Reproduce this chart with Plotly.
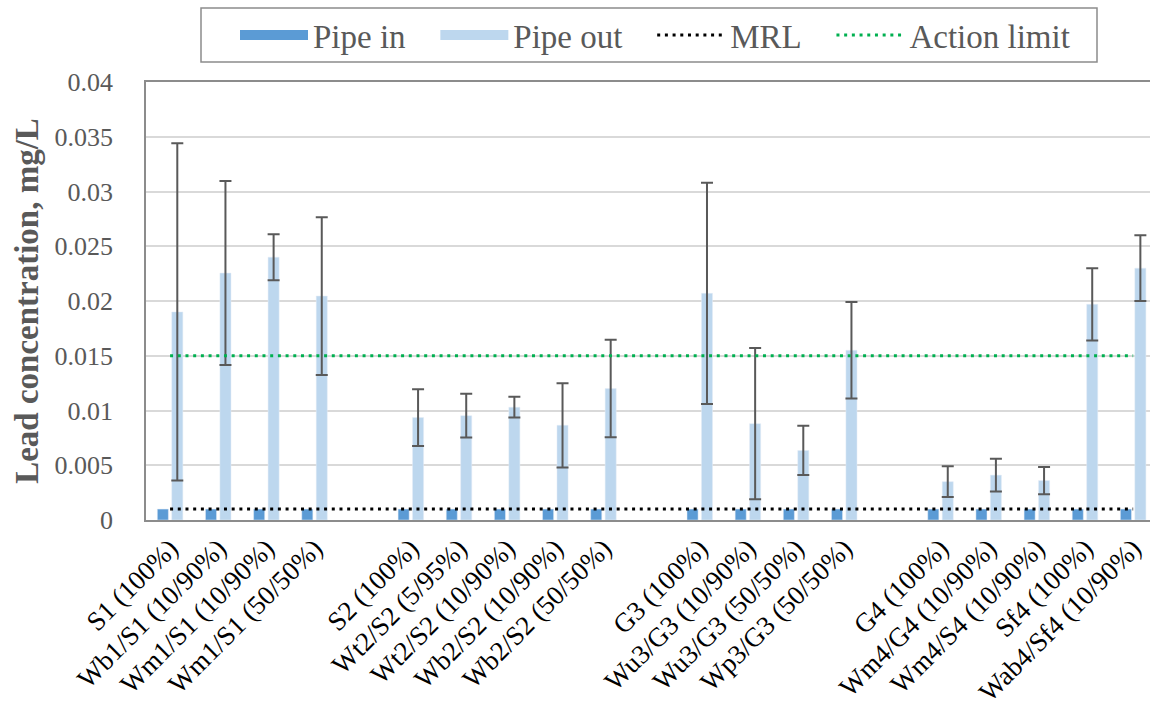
import plotly.graph_objects as go

# ---------------- data ----------------
categories = [
    "S1 (100%)", "Wb1/S1 (10/90%)", "Wm1/S1 (10/90%)", "Wm1/S1 (50/50%)",
    "S2 (100%)", "Wt2/S2 (5/95%)", "Wt2/S2 (10/90%)", "Wb2/S2 (10/90%)", "Wb2/S2 (50/50%)",
    "G3 (100%)", "Wu3/G3 (10/90%)", "Wu3/G3 (50/50%)", "Wp3/G3 (50/50%)",
    "G4 (100%)", "Wm4/G4 (10/90%)", "Wm4/S4 (10/90%)", "Sf4 (100%)", "Wab4/Sf4 (10/90%)",
]
# slot index of each category on the axis (empty slots separate the groups)
slots = [0, 1, 2, 3, 5, 6, 7, 8, 9, 11, 12, 13, 14, 16, 17, 18, 19, 20]

pipe_in = [0.001] * 18
pipe_out = [0.0190, 0.02255, 0.0240, 0.02045,
            0.00935, 0.00953, 0.0103, 0.00865, 0.0120,
            0.0207, 0.0088, 0.00635, 0.0155,
            0.0035, 0.0041, 0.0036, 0.0197, 0.0230]
pipe_out_err = [0.0154, 0.0084, 0.0021, 0.0072,
                0.0026, 0.0020, 0.00095, 0.00385, 0.00445,
                0.0101, 0.0069, 0.00225, 0.0044,
                0.0014, 0.0015, 0.00125, 0.0033, 0.0030]

MRL = 0.001
ACTION_LIMIT = 0.015
line_x = [slots[0], slots[-1]]

y_ticks = [0, 0.005, 0.01, 0.015, 0.02, 0.025, 0.03, 0.035, 0.04]
y_tick_text = ["0", "0.005", "0.01", "0.015", "0.02", "0.025", "0.03", "0.035", "0.04"]

# ---------------- style ----------------
FONT = "Liberation Serif"
C_IN = "#5B9BD5"
C_OUT = "#BDD7EE"
GRAY = "#595959"
PAD = "\u00a0" * 3

fig = go.Figure()

fig.add_trace(go.Bar(x=slots, y=pipe_in, name="Pipe in", marker_color=C_IN,
                     width=0.23, offset=-0.265, showlegend=False))
fig.add_trace(go.Bar(x=slots, y=pipe_out, name="Pipe out", marker_color=C_OUT,
                     width=0.23, offset=0.035, showlegend=False,
                     error_y=dict(type="data", array=pipe_out_err, visible=True,
                                  color=GRAY, thickness=2, width=6)))

dots = "3px,4.7px"
fig.add_trace(go.Scatter(x=line_x, y=[MRL, MRL], mode="lines", name="MRL",
                         line=dict(color="black", width=3, dash=dots), showlegend=False))
fig.add_trace(go.Scatter(x=line_x, y=[ACTION_LIMIT, ACTION_LIMIT], mode="lines",
                         name="Action limit",
                         line=dict(color="#00B050", width=3, dash=dots), showlegend=False))

# legend entries
fig.add_trace(go.Scatter(x=[None], y=[None], mode="lines", name="Pipe in" + PAD,
                         line=dict(color=C_IN, width=16)))
fig.add_trace(go.Scatter(x=[None], y=[None], mode="lines", name="Pipe out" + PAD,
                         line=dict(color=C_OUT, width=16)))
fig.add_trace(go.Scatter(x=[None], y=[None], mode="lines", name="MRL" + PAD,
                         line=dict(color="black", width=3, dash=dots)))
fig.add_trace(go.Scatter(x=[None], y=[None], mode="lines", name="Action limit",
                         line=dict(color="#00B050", width=3, dash=dots)))

# legend frame
fig.add_shape(type="rect", xref="paper", yref="paper",
              x0=(201 - 146) / 1004, x1=(1097 - 146) / 1004,
              y0=1 + (82 - 62) / 438, y1=1 + (82 - 8) / 438,
              line=dict(color="#8c8c8c", width=1.5), fillcolor="rgba(0,0,0,0)", layer="above")

fig.update_layout(
    width=1150, height=708,
    margin=dict(l=146, r=0, t=82, b=188, autoexpand=False),
    paper_bgcolor="white", plot_bgcolor="white",
    barmode="overlay",
    font=dict(family=FONT, size=26, color=GRAY),
    showlegend=True,
    legend=dict(orientation="h", xref="container", x=235 / 1150, xanchor="left",
                yref="container", y=1 - 35 / 708, yanchor="middle",
                bgcolor="rgba(0,0,0,0)", borderwidth=0,
                itemwidth=68, font=dict(family=FONT, size=33, color=GRAY),
                tracegroupgap=0),
    xaxis=dict(range=[-0.5, 20.35], tickmode="array", tickvals=slots, ticktext=categories,
               tickangle=-45, tickfont=dict(family=FONT, size=27, color="black"),
               showgrid=False, zeroline=False, showline=True, mirror=True,
               linecolor="#8c8c8c", linewidth=1.5, ticks="", automargin=False),
    yaxis=dict(range=[0, 0.04], tickmode="array", tickvals=y_ticks, ticktext=y_tick_text,
               showgrid=True, gridcolor="#d9d9d9", gridwidth=2, zeroline=False,
               showline=True, linecolor="#8c8c8c", linewidth=1.5, ticks="",
               ticklabelstandoff=26, automargin=False,
               tickfont=dict(family=FONT, size=26, color=GRAY),
               title=dict(text="<b>Lead concentration, mg/L</b>", standoff=6,
                          font=dict(family=FONT, size=33, color=GRAY))),
)

fig.write_html("out.html")
